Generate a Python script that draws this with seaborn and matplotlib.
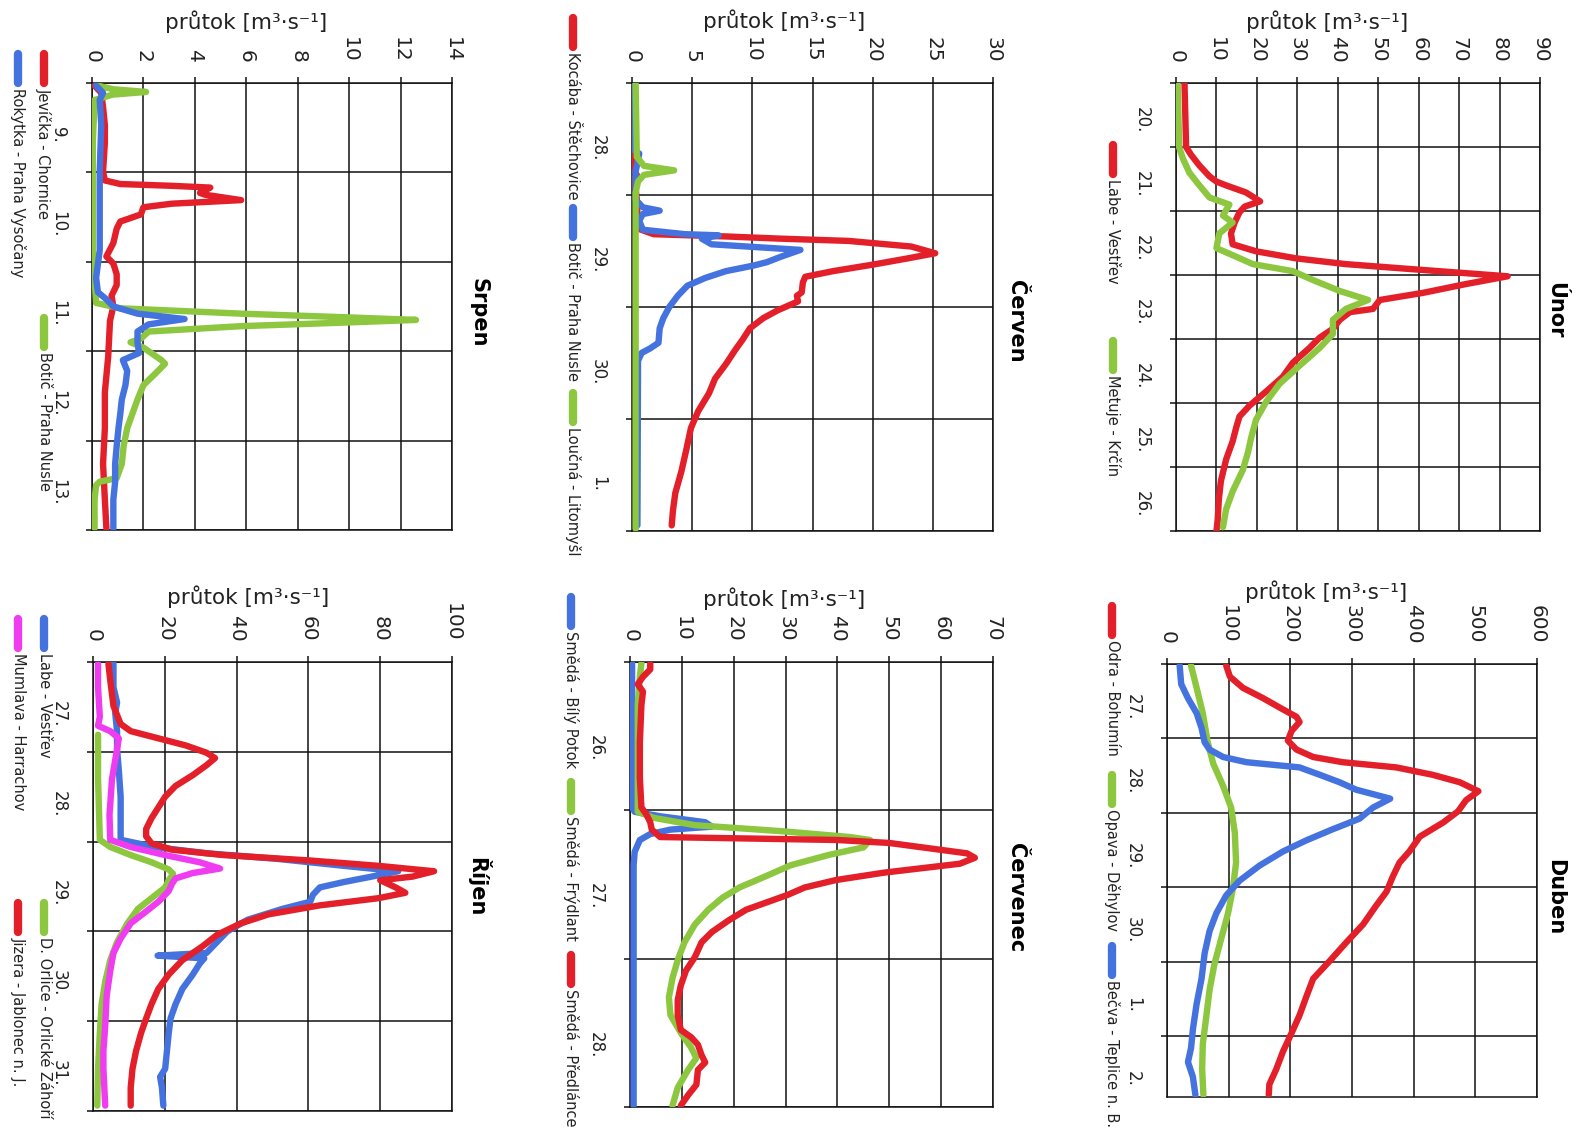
import numpy as np
import pandas as pd
import matplotlib
matplotlib.use("Agg")
import matplotlib.pyplot as plt
from matplotlib.lines import Line2D
import seaborn as sns

# ---------------------------------------------------------------- data
# time is given in days from the start of the first labelled day of each panel,
# discharge (průtok) in m3/s

# Únor
UNOR_DAYS = ["20.", "21.", "22.", "23.", "24.", "25.", "26."]
UNOR_T_LABE = [0.00, 1.00, 1.12, 1.29, 1.46, 1.54, 1.60, 1.71, 1.85, 1.93, 2.02, 2.18, 2.35, 2.52,
               2.63, 2.74, 2.83, 2.91, 3.02, 3.14, 3.28, 3.39, 3.53, 3.58, 3.70, 3.84, 3.98, 4.14,
               4.37, 4.59, 4.82, 5.04, 5.21, 5.38, 5.60, 5.88, 6.22, 6.50, 6.83, 7.00]
UNOR_Q_LABE = [2.1, 2.5, 3.7, 5.8, 8.3, 10.0, 12.4, 17.3, 20.8, 17.0, 15.7, 14.5, 13.6, 14.0,
               19.8, 29.7, 42.0, 58.6, 82.0, 71.8, 61.0, 50.4, 48.7, 43.0, 40.5, 38.8, 35.5, 33.0,
               28.9, 26.4, 22.3, 18.2, 15.7, 14.9, 14.0, 12.4, 11.1, 10.6, 10.3, 10.0]
UNOR_T_METUJE = [0.00, 1.01, 1.18, 1.40, 1.57, 1.79, 1.90, 2.07, 2.18, 2.35, 2.58, 2.69, 2.83,
                 2.94, 3.08, 3.25, 3.39, 3.53, 3.70, 3.92, 4.14, 4.42, 4.70, 4.98, 5.26, 5.54,
                 5.77, 6.05, 6.38, 6.66, 6.94]
UNOR_Q_METUJE = [0.4, 0.8, 1.7, 3.3, 5.4, 8.3, 13.2, 11.6, 14.0, 10.7, 10.0, 14.0, 19.0,
                 28.9, 33.9, 40.5, 47.5, 42.0, 38.8, 38.8, 35.5, 30.5, 25.6, 22.3, 19.8, 18.6,
                 17.8, 16.5, 14.0, 12.4, 11.6]

# Duben
DUBEN_DAYS = ["27.", "28.", "29.", "30.", "1.", "2."]
DUBEN_T_ODRA = [0.02, 0.17, 0.32, 0.46, 0.61, 0.71, 0.78, 0.90, 1.03, 1.15, 1.25, 1.32, 1.39,
                1.49, 1.59, 1.71, 1.83, 1.98, 2.13, 2.32, 2.52, 2.67, 2.86, 3.06, 3.25, 3.50,
                3.74, 3.99, 4.23, 4.47, 4.72, 4.96, 5.21, 5.45, 5.65, 5.79]
DUBEN_Q_ODRA = [96, 102, 123, 156, 188, 210, 215, 202, 196, 210, 237, 285, 372,
                431, 475, 505, 485, 472, 448, 410, 393, 377, 366, 356, 339, 318,
                291, 264, 237, 226, 215, 202, 188, 177, 166, 165]
DUBEN_T_OPAVA = [0.02, 0.32, 0.66, 1.05, 1.34, 1.64, 1.93, 2.27, 2.67, 3.01, 3.35, 3.69, 4.03,
                 4.38, 4.72, 5.11, 5.45, 5.79]
DUBEN_Q_OPAVA = [39, 48, 58, 66, 75, 91, 104, 110, 112, 107, 99, 88, 77,
                 69, 64, 58, 57, 59]
DUBEN_T_BECVA = [0.02, 0.27, 0.46, 0.66, 0.86, 1.05, 1.15, 1.25, 1.32, 1.39, 1.49, 1.59, 1.69,
                 1.81, 1.93, 2.08, 2.22, 2.37, 2.52, 2.71, 2.91, 3.11, 3.35, 3.59, 3.89, 4.23,
                 4.57, 4.91, 5.16, 5.35, 5.55, 5.79]
DUBEN_Q_BECVA = [20.5, 23, 34, 48, 56, 61, 69, 91, 129, 215, 248, 280, 307,
                 362, 334, 312, 269, 226, 188, 150, 118, 96, 80, 69, 61, 56,
                 48, 42, 39, 34, 42, 46]

# Červen
CERVEN_DAYS = ["28.", "29.", "30.", "1."]
CERVEN_T_KOCABA = [0.02, 0.79, 0.82, 0.85, 1.04, 1.30, 1.35, 1.37, 1.39, 1.41, 1.46, 1.52, 1.57,
                   1.62, 1.68, 1.73, 1.78, 1.87, 1.90, 1.95, 2.03, 2.10, 2.19, 2.29, 2.38, 2.51,
                   2.64, 2.77, 2.93, 3.08, 3.28, 3.47, 3.66, 3.82, 3.95]
CERVEN_Q_KOCABA = [0.2, 0.2, 0.4, 0.2, 0.4, 0.5, 1.8, 7.8, 12.4, 18.0, 23.2, 25.2, 22.7,
                   20.1, 16.7, 14.4, 14.2, 14.1, 13.7, 13.8, 12.1, 10.9, 9.8, 9.2, 8.6, 7.8,
                   6.9, 6.4, 5.5, 4.9, 4.5, 4.1, 3.6, 3.4, 3.3]
CERVEN_T_BOTIC = [0.02, 0.60, 0.63, 0.69, 0.79, 1.04, 1.11, 1.14, 1.17, 1.23, 1.31, 1.35, 1.36,
                  1.39, 1.44, 1.49, 1.55, 1.60, 1.63, 1.68, 1.74, 1.81, 1.90, 2.00, 2.10, 2.19,
                  2.32, 2.37, 2.41, 2.48, 3.95]
CERVEN_Q_BOTIC = [0.2, 0.2, 0.6, 0.5, 0.3, 0.3, 0.9, 2.3, 0.9, 0.6, 0.9, 4.4, 7.2,
                  5.8, 6.6, 14.0, 12.4, 11.2, 10.1, 7.8, 6.1, 4.6, 3.8, 3.1, 2.6, 2.3,
                  2.2, 1.5, 0.8, 0.5, 0.45]
CERVEN_T_LOUCNA = [0.00, 0.66, 0.74, 0.78, 0.82, 0.88, 0.98, 3.98]
CERVEN_Q_LOUCNA = [0.3, 0.4, 1.0, 3.5, 1.0, 0.5, 0.3, 0.3]

# Červenec
CERVENEC_DAYS = ["26.", "27.", "28."]
CERVENEC_T_BILY = [0.01, 0.98, 1.01, 1.04, 1.08, 1.11, 1.13, 1.16, 1.20, 1.28, 1.37, 2.99]
CERVENEC_Q_BILY = [0.4, 0.4, 0.9, 5.8, 14.5, 15.8, 7.8, 3.9, 1.9, 0.9, 0.7, 0.7]
CERVENEC_T_FRYDLANT = [0.01, 0.10, 0.29, 1.01, 1.05, 1.10, 1.14, 1.18, 1.20, 1.25, 1.30, 1.37,
                       1.45, 1.52, 1.59, 1.67, 1.77, 1.89, 2.01, 2.13, 2.26, 2.38, 2.50, 2.60,
                       2.67, 2.75, 2.87, 2.99]
CERVENEC_Q_FRYDLANT = [2.2, 1.9, 1.5, 1.5, 4.5, 12.5, 29.0, 42.4, 46.3, 45.0, 38.4, 31.0,
                       25.8, 21.1, 17.8, 15.1, 12.5, 10.5, 9.2, 8.2, 7.5, 7.8, 9.8, 11.8,
                       12.8, 11.2, 9.2, 8.2]
CERVENEC_T_PREDLANCE = [0.01, 0.05, 0.10, 0.15, 0.20, 0.29, 0.54, 0.78, 0.98, 1.03, 1.08, 1.13,
                        1.18, 1.20, 1.22, 1.29, 1.32, 1.36, 1.42, 1.47, 1.52, 1.57, 1.62, 1.67,
                        1.74, 1.82, 1.89, 1.99, 2.08, 2.18, 2.28, 2.38, 2.48, 2.53, 2.58, 2.65,
                        2.70, 2.75, 2.85, 2.92, 2.99]
CERVENEC_Q_PREDLANCE = [3.9, 3.9, 2.5, 1.5, 2.5, 2.2, 1.9, 1.9, 2.2, 3.2, 3.9, 4.2,
                        5.8, 40.0, 50.0, 65.0, 66.5, 63.6, 49.0, 39.7, 33.7, 30.4, 26.4, 22.4,
                        19.1, 15.8, 13.8, 12.5, 10.8, 9.8, 9.2, 9.2, 9.8, 11.8, 13.1, 13.8,
                        14.5, 13.1, 12.8, 11.2, 9.8]

# Srpen
SRPEN_DAYS = ["9.", "10.", "11.", "12.", "13."]
SRPEN_T_JEVICKA = [0.03, 0.11, 0.27, 0.47, 0.67, 0.99, 1.09, 1.13, 1.15, 1.17, 1.23, 1.25, 1.31,
                   1.35, 1.39, 1.47, 1.55, 1.63, 1.79, 1.94, 2.02, 2.14, 2.26, 2.38, 2.50, 2.66,
                   3.06, 3.46, 3.86, 4.26, 4.66, 4.98]
SRPEN_Q_JEVICKA = [0.10, 0.36, 0.43, 0.50, 0.50, 0.43, 0.50, 1.10, 3.10, 4.60, 4.20, 4.40, 5.80,
                   3.10, 2.00, 1.90, 1.10, 0.96, 0.83, 0.56, 0.83, 0.96, 0.96, 0.76, 0.83, 0.70,
                   0.63, 0.50, 0.50, 0.43, 0.50, 0.56]
SRPEN_T_BOTIC = [0.03, 0.07, 0.10, 0.13, 0.19, 0.67, 1.87, 2.46, 2.52, 2.58, 2.62, 2.65, 2.68,
                 2.72, 2.78, 2.86, 2.90, 2.96, 3.02, 3.10, 3.14, 3.22, 3.38, 3.54, 3.70, 3.86,
                 4.06, 4.26, 4.42, 4.46, 4.50, 4.66, 4.98]
SRPEN_Q_BOTIC = [0.23, 0.83, 2.10, 0.80, 0.10, 0.03, 0.03, 0.16, 1.10, 5.80, 9.80, 12.60, 9.80,
                 5.80, 2.20, 1.90, 1.50, 2.00, 2.30, 2.70, 2.84, 2.57, 2.00, 1.77, 1.57, 1.37,
                 1.23, 1.16, 0.96, 0.30, 0.16, 0.10, 0.10]
SRPEN_T_ROKYTKA = [0.03, 0.11, 0.19, 0.47, 0.99, 1.47, 1.87, 2.18, 2.34, 2.42, 2.50, 2.58, 2.64,
                   2.70, 2.78, 2.90, 3.02, 3.10, 3.22, 3.38, 3.54, 3.70, 3.86, 4.06, 4.26, 4.46,
                   4.66, 4.98]
SRPEN_Q_ROKYTKA = [0.16, 0.43, 0.30, 0.36, 0.30, 0.30, 0.30, 0.16, 0.23, 0.56, 0.83, 1.77, 3.60,
                   2.20, 1.77, 1.77, 1.83, 1.20, 1.37, 1.30, 1.16, 1.10, 1.03, 0.96, 0.90, 0.90,
                   0.83, 0.83]

# Říjen
RIJEN_DAYS = ["27.", "28.", "29.", "30.", "31."]
RIJEN_T_LABE = [0.02, 0.28, 0.45, 0.57, 0.77, 0.97, 1.21, 1.50, 1.78, 1.98, 2.06, 2.13, 2.19,
                2.27, 2.33, 2.39, 2.45, 2.51, 2.59, 2.67, 2.75, 2.87, 3.00, 3.12, 3.24, 3.27,
                3.30, 3.36, 3.48, 3.64, 3.81, 3.97, 4.13, 4.33, 4.53, 4.62, 4.74, 4.94]
RIJEN_Q_LABE = [5.7, 5.7, 6.7, 6.2, 6.7, 6.7, 7.2, 7.7, 7.7, 7.7, 17.2, 31.6, 50.8,
                69.9, 85.0, 77.6, 69.9, 63.2, 61.3, 60.5, 52.7, 43.1, 37.4, 34.5, 31.6, 18.0,
                31.0, 29.7, 27.8, 24.9, 23.0, 21.6, 21.1, 20.6, 20.1, 18.7, 19.2, 19.6]
RIJEN_T_ORLICE = [0.81, 1.30, 1.70, 1.98, 2.06, 2.15, 2.23, 2.31, 2.36, 2.43, 2.51, 2.63, 2.75,
                  2.91, 3.12, 3.32, 3.56, 3.81, 4.13, 4.53, 4.94]
RIJEN_Q_ORLICE = [1.4, 1.4, 1.7, 1.9, 4.8, 10.5, 16.3, 21.1, 22.3, 21.1, 20.1, 16.3, 12.5,
                  9.6, 6.7, 4.8, 3.4, 2.4, 1.9, 1.4, 1.2]
RIJEN_T_MUMLAVA = [0.02, 0.28, 0.61, 0.71, 0.77, 0.85, 0.97, 1.30, 1.70, 1.98, 2.06, 2.15, 2.23,
                   2.30, 2.35, 2.41, 2.47, 2.55, 2.67, 2.79, 2.91, 3.08, 3.24, 3.44, 3.72, 4.05,
                   4.33, 4.53, 4.94]
RIJEN_Q_MUMLAVA = [1.4, 1.4, 1.9, 1.4, 4.8, 7.2, 6.7, 5.3, 4.6, 4.8, 10.5, 20.1, 29.7,
                   35.4, 27.8, 23.0, 22.0, 21.1, 18.2, 14.4, 10.5, 7.7, 5.7, 4.8, 3.8, 3.4,
                   2.9, 2.9, 3.4]
RIJEN_T_JIZERA = [0.02, 0.20, 0.49, 0.69, 0.77, 0.85, 0.93, 1.01, 1.07, 1.15, 1.26, 1.38, 1.50,
                  1.62, 1.74, 1.86, 1.94, 2.02, 2.09, 2.15, 2.21, 2.27, 2.33, 2.39, 2.43, 2.51,
                  2.57, 2.63, 2.71, 2.81, 2.91, 3.04, 3.16, 3.32, 3.48, 3.64, 3.81, 3.97, 4.13,
                  4.33, 4.53, 4.74, 4.94]
RIJEN_Q_JIZERA = [4.3, 4.8, 5.7, 7.7, 10.5, 18.2, 25.9, 31.6, 34.0, 31.6, 27.8, 23.0, 20.1,
                  18.2, 16.3, 14.8, 14.8, 16.3, 22.0, 36.4, 60.3, 79.5, 95.0, 89.0, 80.0, 84.3,
                  87.0, 79.5, 63.2, 48.9, 41.2, 34.5, 30.7, 24.9, 21.1, 18.2, 16.3, 14.8, 13.4,
                  12.0, 11.0, 10.5, 10.5]

# ---------------------------------------------------------------- styling
W, H = 1587, 1131
RED = "#E3202A"
GREEN = "#8DC63F"
BLUE = "#4472DE"
MAGENTA = "#F03CF0"
INK = "#111111"
LINE_W = 4.6
GRID_W = 1.1
YLABEL = "průtok [m³·s⁻¹]"

sns.set_style("white")
plt.rcParams["font.family"] = ["DejaVu Sans"]

fig = plt.figure(figsize=(W / 100, H / 100), dpi=100)
fig.patch.set_facecolor("white")


def fx(x):
    return x / W


def fy(y):
    return 1.0 - y / H


def draw_panel(box, t_total, vmax, vstep, day_labels, series, title, title_xy, label_xy, legend):
    left, right, top, bottom = box
    ax = fig.add_axes([fx(left), fy(bottom), (right - left) / W, (bottom - top) / H])

    for t, q, color in series:
        df = pd.DataFrame({"t": t, "q": q})
        sns.lineplot(data=df, x="q", y="t", orient="y", sort=False, estimator=None,
                     color=color, lw=LINE_W, ax=ax, solid_capstyle="round",
                     solid_joinstyle="round", zorder=3)

    ax.set_xlim(0, vmax)
    ax.set_ylim(t_total, 0)
    ax.set_xlabel("")
    ax.set_ylabel("")

    # discharge axis along the top, labels turned with the sheet
    ax.set_xticks(np.arange(0, vmax + vstep / 2, vstep))
    ax.xaxis.tick_top()
    ax.tick_params(axis="x", which="major", direction="out", length=4, width=GRID_W,
                   color=INK, pad=10.5, labelsize=14.5, labelrotation=-90, labelcolor="#222222")
    for lab in ax.get_xticklabels():
        lab.set_ha("center")
        lab.set_va("bottom")

    # day boundaries as major ticks, day names centred between them
    ax.set_yticks(np.arange(0, int(np.floor(t_total)) + 1))
    ax.set_yticklabels([])
    ax.set_yticks([k + 0.58 for k in range(len(day_labels))], minor=True)
    ax.set_yticklabels(day_labels, minor=True)
    ax.tick_params(axis="y", which="major", direction="out", length=4, width=GRID_W,
                   color=INK, left=True)
    ax.tick_params(axis="y", which="minor", length=0, pad=18, labelsize=12,
                   labelrotation=-90, labelcolor="#222222")
    for lab in ax.get_yticklabels(minor=True):
        lab.set_ha("right")
        lab.set_va("center")

    ax.grid(True, which="major", axis="both", color=INK, lw=GRID_W)
    ax.set_axisbelow(True)
    for sp in ax.spines.values():
        sp.set_visible(True)
        sp.set_color(INK)
        sp.set_linewidth(GRID_W)

    fig.text(fx(title_xy[0]), fy(title_xy[1]), title, rotation=-90, ha="center",
             va="center", fontsize=15, fontweight="bold", color="black")
    fig.text(fx(label_xy[0]), fy(label_xy[1]), YLABEL, ha="center", va="center",
             fontsize=15.5, color="#222222")

    for x, y0, name, color in legend:
        fig.add_artist(Line2D([fx(x), fx(x)], [fy(y0 + 4), fy(y0 + 33)],
                              transform=fig.transFigure, color=color, lw=6,
                              solid_capstyle="round"))
        fig.text(fx(x), fy(y0 + 38), name, rotation=-90, ha="center", va="top",
                 fontsize=10.5, color="#222222")
    return ax


draw_panel((1176, 1540, 83, 531), 7, 90, 10, UNOR_DAYS,
           [(UNOR_T_LABE, UNOR_Q_LABE, RED), (UNOR_T_METUJE, UNOR_Q_METUJE, GREEN)],
           "Únor", (1555, 310), (1327, 22),
           [(1113, 141, "Labe - Vestřev", RED), (1113, 337, "Metuje - Krčín", GREEN)])

draw_panel((1167, 1537, 664, 1097), 5.82, 600, 100, DUBEN_DAYS,
           [(DUBEN_T_ODRA, DUBEN_Q_ODRA, RED), (DUBEN_T_OPAVA, DUBEN_Q_OPAVA, GREEN),
            (DUBEN_T_BECVA, DUBEN_Q_BECVA, BLUE)],
           "Duben", (1555, 897), (1326, 592),
           [(1112, 602, "Odra - Bohumín", RED), (1112, 771, "Opava - Děhylov", GREEN),
            (1112, 942, "Bečva - Teplice n. B.", BLUE)])

draw_panel((632, 993, 83, 531), 4, 30, 5, CERVEN_DAYS,
           [(CERVEN_T_KOCABA, CERVEN_Q_KOCABA, RED), (CERVEN_T_BOTIC, CERVEN_Q_BOTIC, BLUE),
            (CERVEN_T_LOUCNA, CERVEN_Q_LOUCNA, GREEN)],
           "Červen", (1016, 321), (784, 21),
           [(573, 14, "Kocába - Štěchovice", RED), (573, 204, "Botič - Praha Nusle", BLUE),
            (573, 389, "Loučná - Litomyšl", GREEN)])

draw_panel((630, 993, 662, 1107), 3, 70, 10, CERVENEC_DAYS,
           [(CERVENEC_T_BILY, CERVENEC_Q_BILY, BLUE),
            (CERVENEC_T_FRYDLANT, CERVENEC_Q_FRYDLANT, GREEN),
            (CERVENEC_T_PREDLANCE, CERVENEC_Q_PREDLANCE, RED)],
           "Červenec", (1016, 898), (784, 599),
           [(571, 593, "Smědá - Bílý Potok", BLUE), (571, 778, "Smědá - Frýdlant", GREEN),
            (571, 951, "Smědá - Předlánce", RED)])

draw_panel((92, 452, 83, 530), 5, 14, 2, SRPEN_DAYS,
           [(SRPEN_T_JEVICKA, SRPEN_Q_JEVICKA, RED), (SRPEN_T_BOTIC, SRPEN_Q_BOTIC, GREEN),
            (SRPEN_T_ROKYTKA, SRPEN_Q_ROKYTKA, BLUE)],
           "Srpen", (478, 313), (246, 22),
           [(44, 50, "Jevíčka - Chornice", RED), (44, 314, "Botič - Praha Nusle", GREEN),
            (18, 50, "Rokytka - Praha Vysočany", BLUE)])

draw_panel((93, 452, 662, 1111), 5, 100, 20, RIJEN_DAYS,
           [(RIJEN_T_LABE, RIJEN_Q_LABE, BLUE), (RIJEN_T_ORLICE, RIJEN_Q_ORLICE, GREEN),
            (RIJEN_T_MUMLAVA, RIJEN_Q_MUMLAVA, MAGENTA), (RIJEN_T_JIZERA, RIJEN_Q_JIZERA, RED)],
           "Říjen", (478, 887), (248, 597),
           [(44, 615, "Labe - Vestřev", BLUE), (18, 615, "Mumlava - Harrachov", MAGENTA),
            (44, 899, "D. Orlice - Orlické Záhoří", GREEN),
            (18, 899, "Jizera - Jablonec n. J.", RED)])

fig.savefig("out.png", dpi=100, facecolor="white")
